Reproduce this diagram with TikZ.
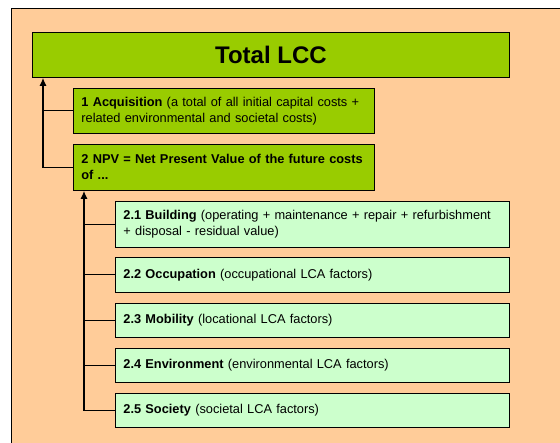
\documentclass[tikz,border=0pt]{standalone}
\usepackage{fontspec}
\setmainfont{Liberation Sans}
\usetikzlibrary{arrows.meta}

\definecolor{bgorange}{HTML}{FFCC99}
\definecolor{lccgreen}{HTML}{99CC00}
\definecolor{subgreen}{HTML}{CCFFCC}

\tikzset{
  topbox/.style={draw=black, fill=lccgreen, anchor=north west, line width=0.8pt,
    minimum width=477pt, minimum height=45pt,
    font=\bfseries\fontsize{24}{28}\selectfont},
  mainbox/.style={draw=black, fill=lccgreen, anchor=north west, line width=0.8pt,
    inner xsep=8pt, text width=285pt, align=left,
    font=\fontsize{12.8}{16}\selectfont},
  subbox/.style={mainbox, fill=subgreen, text width=378pt},
  link/.style={draw=black, line width=0.8pt},
  uparrow/.style={link, line width=1.3pt, -{Latex[length=8pt,width=7pt]}}
}

\begin{document}
\begin{tikzpicture}[x=1pt,y=-1pt]
\useasboundingbox (0,0) rectangle (560,443);
\draw [black, fill=bgorange, line width=0.8pt] (11,8) rectangle (580,460);

\node [topbox] (total) at (32,32) {Total LCC};
\node [mainbox, minimum height=45pt] (acq) at (73,88)
  {\textbf{1 Acquisition} (a total of all initial capital costs +\\related environmental and societal costs)};
\node [mainbox, minimum height=46pt] (npv) at (73,144)
  {\textbf{\mbox{2 NPV = Net Present Value of the future costs}\\of ...}};

\node [subbox, minimum height=46pt] (bld) at (115,201)
  {\textbf{2.1 Building} (operating + maintenance + repair + refurbishment\\+ disposal - residual value)};
\node [subbox, minimum height=35pt] (occ) at (115,257)
  {\textbf{2.2 Occupation} (occupational LCA factors)};
\node [subbox, minimum height=34pt] (mob) at (115,303)
  {\textbf{2.3 Mobility} (locational LCA factors)};
\node [subbox, minimum height=34pt] (env) at (115,348)
  {\textbf{2.4 Environment} (environmental LCA factors)};
\node [subbox, minimum height=34pt] (soc) at (115,393)
  {\textbf{2.5 Society} (societal LCA factors)};

\coordinate (spineA) at ([xshift=-30pt]npv.west);
\draw [uparrow] (npv.west) -- (spineA) -- (spineA |- total.south);
\draw [link] (acq.west) -- (acq.west -| spineA);

\coordinate (spineB) at ([xshift=-31pt]soc.west);
\draw [uparrow] (soc.west) -- (spineB) -- (spineB |- npv.south);
\draw [link] (bld.west) -- (bld.west -| spineB);
\draw [link] (occ.west) -- (occ.west -| spineB);
\draw [link] (mob.west) -- (mob.west -| spineB);
\draw [link] (env.west) -- (env.west -| spineB);
\end{tikzpicture}
\end{document}
